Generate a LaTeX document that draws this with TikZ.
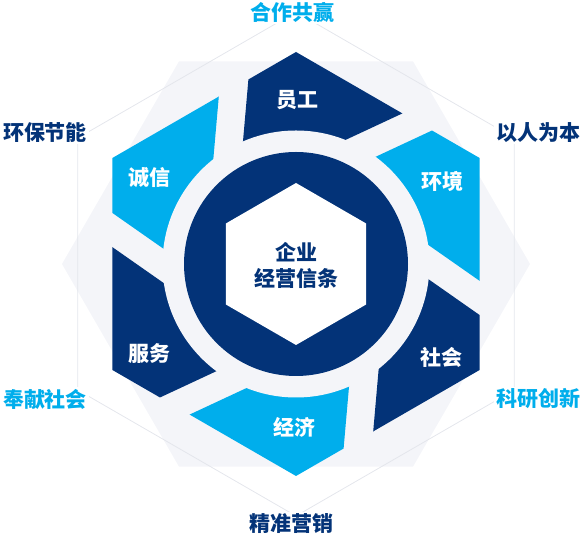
\documentclass[tikz,border=0pt]{standalone}
\usepackage{fontspec}
\newfontfamily\cjk{Noto Sans CJK SC}
\usetikzlibrary{calc}
\definecolor{navyblue}{RGB}{3,51,120}
\definecolor{skyblue}{RGB}{0,174,236}
\definecolor{hexbg}{RGB}{244,245,249}
\definecolor{gridline}{RGB}{228,230,236}

\begin{document}
\begin{tikzpicture}[x=1pt,y=1pt,
    lab/.style={font=\cjk\bfseries\fontsize{21}{26}\selectfont,inner sep=1pt},
    outer/.style={lab,fill=white,inner sep=2pt}]
    \useasboundingbox (0,0) rectangle (584,537);
    \begin{scope}[shift={(296,273)}]
        \fill[hexbg] (0:234) \foreach \a in {60,120,...,300} { -- (\a:234) } -- cycle;
        \draw[gridline,line width=0.8pt] (90:252) \foreach \a in {150,210,...,390} { -- (\a:252) } -- cycle;

        \foreach \a/\c in {0/navyblue,-60/skyblue,-120/navyblue,-180/skyblue,-240/navyblue,-300/skyblue} {
            \begin{scope}[rotate=\a]
                \coordinate (a1) at (115:91.5);
                \coordinate (a2) at ($(a1)+(25:400)$);
                \coordinate (b1) at (175:63.5);
                \coordinate (b2) at ($(b1)+(85:400)$);
                \clip (90:212) \foreach \b in {150,210,...,390} { -- (\b:212) } -- cycle;
                \fill[\c] (intersection of a1--a2 and b1--b2) -- (a2) -- (b2) -- cycle;
            \end{scope}
        }
        \fill[hexbg] (0,0) circle (133.5);
        \fill[navyblue] (0,0) circle (112);
        \fill[white] (90:81) \foreach \a in {150,210,...,390} { -- (\a:81) } -- cycle;

        \foreach \n/\p/\t in {YG/89.5:164/员工, HJ/29.6:168/环境, SH/-32.5:173/社会,
                              JJ/-90.5:163.5/经济, FW/-148.6:172/服务, CX/149.6:170/诚信} {
            \node[lab,text=white] (\n) at (\p) {\t};
        }
        \node[lab,text=navyblue,align=center] (QY) at (0.5,-1) {企业\\经营信条};

        \node[outer,text=skyblue] (HZ) at (-4,252) {合作共赢};
        \node[outer,text=navyblue] (YR) at (242,131.5) {以人为本};
        \node[outer,text=skyblue] (KY) at (242,-135) {科研创新};
        \node[outer,text=navyblue] (JZ) at (-4.5,-260) {精准营销};
        \node[outer,text=skyblue] (FX) at (-251,-135) {奉献社会};
        \node[outer,text=navyblue] (HB) at (-251,131.5) {环保节能};
    \end{scope}
\end{tikzpicture}
\end{document}
